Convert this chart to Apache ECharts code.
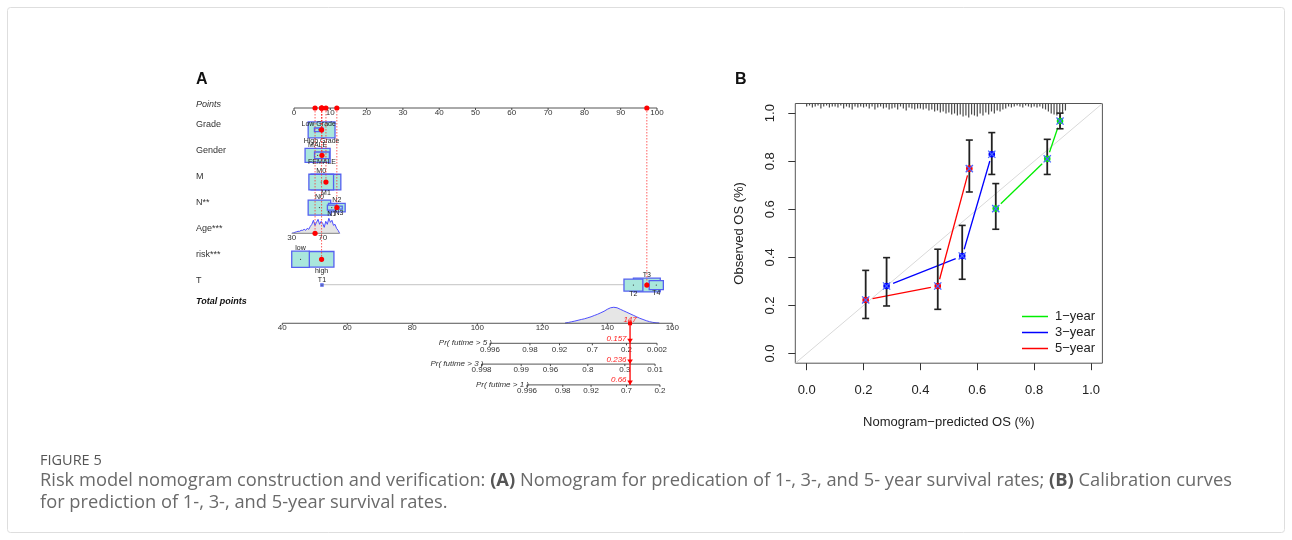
<!DOCTYPE html>
<html><head><meta charset="utf-8">
<script src="https://cdn.jsdelivr.net/npm/echarts@6/dist/echarts.min.js"></script>
<style>html,body{margin:0;padding:0;background:#fff}#c{width:1292px;height:540px}</style>
</head><body><div id="c"></div>
<script>
// ================= DATA: Panel A (nomogram) =================
const rowLabels = ['Points','Grade','Gender','M','N**','Age***','risk***','T','Total points'];
const pointTicks = [0,10,20,30,40,50,60,70,80,90,100];
const gradeLevels = ['Low Grade','High Grade'];
const gradePoints = [6.8, 7.6];
const genderLevels = ['MALE','FEMALE'];
const genderPoints = [6.5, 7.7];
const mLevels = ['M0','M1'];
const mPoints = [7.5, 8.8];
const nLevels = ['N0','N1','N2','N3'];
const nPoints = [7.0, 10.4, 11.8, 12.4];
const riskLevels = ['low','high'];
const riskPoints = [1.8, 7.6];
const tLevels = ['T1','T2','T3','T4'];
const tPoints = [7.7, 93.5, 97.2, 99.8];
const ageTickLabels = [30, 70];
const ageTickPoints = [-0.6, 7.9];
const ageGrid = [30,32,34,36,38,40,42,44,46,48,50,52,54,56,58,60,62,64,66,68,70,72,74,76,78,80,82,84,86,88,90,92];
const ageDensity = [0,0.5,1,1.5,2,2,3,3,4,3,5,4,7,9,13,8,11,14,9,12,10,6,12,9,15,11,13,8,9,5,3,0];
// patient: grade, gender, M, N, age, risk, T
const patientPoints = [7.6, 7.7, 8.8, 11.8, 5.8, 7.6, 97.2];
const totalTicks = [40,60,80,100,120,140,160];
const totalGrid = [127,128,129,130,131,132,133,134,135,136,137,138,139,140,141,142,143,144,145,146,147,148,149,150,151,152,153,154,155,156];
const totalDensity = [0.3,0.8,1.5,2.2,3,3.8,4.5,5.5,6.5,7.8,9,10.5,12,14,15.5,16,15.5,14,12.5,11,9.5,8,6.5,5,3.8,2.6,1.6,0.9,0.5,0.3];
const totalScore = 147;
const prNames = ['Pr( futime > 5 )','Pr( futime > 3 )','Pr( futime > 1 )'];
const pr5Labels = ['0.996','0.98','0.92','0.7','0.2','0.002'];
const pr5Points = [103.9,116.2,125.3,135.4,145.9,155.3];
const pr3Labels = ['0.998','0.99','0.96','0.8','0.3','0.01'];
const pr3Points = [101.3,113.5,122.5,134.0,145.4,154.7];
const pr1Labels = ['0.996','0.98','0.92','0.7','0.2'];
const pr1Points = [115.3,126.3,135.0,145.9,156.2];
const prValues = ['0.157','0.236','0.66'];

// ================= DATA: Panel B (calibration) =================
const xTicksB = [0,0.2,0.4,0.6,0.8,1.0];
const yTicksB = [0,0.2,0.4,0.6,0.8,1.0];
const y1Pred = [0.665,0.846,0.891], y1Obs = [0.603,0.81,0.967], y1Lo = [0.517,0.745,0.935], y1Hi = [0.707,0.891,1.0];
const y3Pred = [0.281,0.547,0.651], y3Obs = [0.281,0.406,0.829], y3Lo = [0.198,0.309,0.745], y3Hi = [0.399,0.533,0.919];
const y5Pred = [0.2075,0.461,0.572], y5Obs = [0.223,0.281,0.769], y5Lo = [0.146,0.184,0.672], y5Hi = [0.346,0.434,0.888];
const rugStart = 0.0, rugStep = 0.01;
const rugCounts = [3,2,4,3,2,5,3,2,4,3, 3,4,2,5,3,4,6,3,4,3, 4,3,5,3,6,4,3,5,4,6, 5,4,6,3,5,7,4,5,6,5,
  5,6,5,7,6,8,7,9,8,10, 9,11,10,12,11,13,12,14,11,12, 13,10,12,9,11,8,10,7,8,6, 5,3,4,3,2,3,4,2,3,4,
  3,4,3,5,6,8,10,11,12,9, 10,7];

// ================= LAYOUT / STYLE =================
const FONT = '"Liberation Sans", Arial, Helvetica, sans-serif';
const CAP_FONT = '"Open Sans", sans-serif';
const TXT = '#333';
const ROW_V = {points:0, grade:0.84, gender:1.82, m:2.85, n:3.83, age:4.82, risk:5.82, t:6.81, total:8.28, pr:[9.05,9.85,10.65]};
const LABEL_V = [-0.15,0.65,1.65,2.65,3.62,4.62,5.62,6.62,7.46];
const BOX_SIZE = {grade:[[2.35,3.7],[7.4,16]], gender:[[6.9,14],[4.1,6.6]], m:[[6.8,15.7],[8.2,15.7]],
  n:[[6.2,15],[2.4,5],[4.6,8.4],[1.8,3]], risk:[[4.85,16.3],[6.8,15.6]], t:[[0.6,2.2],[5.2,12],[7.4,13.7],[3.9,9]]};
const BOX_FILL = '#a9e7dc', BOX_STROKE = '#5560f0';

function T(x,y,text,o){ o=o||{}; return {type:'text', x:x, y:y, z2:o.z2||50, style:{text:text, fontSize:o.size||8, fontFamily:FONT, fill:o.color||TXT, align:o.align||'center', verticalAlign:o.va||'middle', fontStyle:o.style||'normal', fontWeight:o.weight||'normal'}}; }
function L(x1,y1,x2,y2,o){ o=o||{}; return {type:'line', z2:o.z2||10, shape:{x1:x1,y1:y1,x2:x2,y2:y2}, style:{stroke:o.color||'#333', lineWidth:o.w||1, lineDash:o.dash||null, opacity:o.op==null?1:o.op}}; }
function agePts(a){ return ageTickPoints[0] + (a-ageTickLabels[0])*(ageTickPoints[1]-ageTickPoints[0])/(ageTickLabels[1]-ageTickLabels[0]); }

const catRows = [
  {key:'grade', levels:gradeLevels, pts:gradePoints},
  {key:'gender', levels:genderLevels, pts:genderPoints},
  {key:'m', levels:mLevels, pts:mPoints},
  {key:'n', levels:nLevels, pts:nPoints},
  {key:'risk', levels:riskLevels, pts:riskPoints},
  {key:'t', levels:tLevels, pts:tPoints}
];
const boxItems = [];
catRows.forEach(r=>{
  const sz = BOX_SIZE[r.key];
  const idx = r.levels.map((_,i)=>i).sort((a,b)=> sz[b][0]*sz[b][1]-sz[a][0]*sz[a][1]);
  idx.forEach(i=> boxItems.push({key:r.key, i:i, label:r.levels[i], pts:r.pts[i], v:ROW_V[r.key], w:sz[i][0], h:sz[i][1]}));
});
const patientRowsV = [ROW_V.grade, ROW_V.gender, ROW_V.m, ROW_V.n, ROW_V.age, ROW_V.risk, ROW_V.t];
const prSets = [[pr5Labels,pr5Points],[pr3Labels,pr3Points],[pr1Labels,pr1Points]];

const series = [];
// ---- Points axis
series.push({type:'custom', xAxisIndex:0, yAxisIndex:0, silent:true, z:3,
  data: pointTicks.map(t=>[t, ROW_V.points]),
  renderItem:(p,api)=>{
    const t = pointTicks[p.dataIndex]; const c = api.coord([t, ROW_V.points]);
    const ch = [L(c[0],c[1],c[0],c[1]+2,{color:'#444'}), T(c[0], c[1]+4.6, String(t), {size:8})];
    if (p.dataIndex===0){ const e = api.coord([pointTicks[pointTicks.length-1], ROW_V.points]); ch.push(L(c[0],c[1],e[0],e[1],{color:'#555'})); }
    return {type:'group', children:ch};
  }});
// ---- Row labels
series.push({type:'custom', xAxisIndex:0, yAxisIndex:0, silent:true, z:3,
  data: rowLabels.map((l,i)=>[0, LABEL_V[i]]),
  renderItem:(p,api)=>{
    const i = p.dataIndex; const c = api.coord([0, LABEL_V[i]]);
    const o = {size:9, align:'left'};
    if (i===0) o.style='italic';
    if (i===rowLabels.length-1){ o.style='italic'; o.weight='bold'; o.color='#111'; }
    return T(c[0]-98, c[1], rowLabels[i], o);
  }});
// ---- T range baseline
series.push({type:'custom', xAxisIndex:0, yAxisIndex:0, silent:true, z:2,
  data: [[0, ROW_V.t]],
  renderItem:(p,api)=>{
    const a = api.coord([tPoints[0], ROW_V.t]), b = api.coord([tPoints[tPoints.length-1], ROW_V.t]);
    return L(a[0], a[1]-0.5, b[0], b[1]-0.5, {color:'#cfcfcf', w:1.2});
  }});
// ---- Age density
series.push({type:'custom', xAxisIndex:0, yAxisIndex:0, silent:true, z:3,
  data: [[0, ROW_V.age]],
  renderItem:(p,api)=>{
    const pts = ageGrid.map((a,k)=>{ const c = api.coord([agePts(a), ROW_V.age]); return [c[0], c[1]-ageDensity[k]]; });
    const b0 = api.coord([agePts(ageGrid[0]), ROW_V.age]), b1 = api.coord([agePts(ageGrid[ageGrid.length-1]), ROW_V.age]);
    const ch = [
      {type:'polygon', shape:{points: pts.concat([[b1[0],b1[1]],[b0[0],b0[1]]])}, style:{fill:'#e4e4e4'}},
      {type:'polyline', shape:{points: pts}, style:{stroke:'#3b3bff', lineWidth:0.9, fill:null}},
      L(b0[0], b0[1], b1[0], b1[1], {color:'#999', w:1.2})
    ];
    ageTickLabels.forEach(a=>{ const c = api.coord([agePts(a), ROW_V.age]); ch.push(T(c[0], c[1]+4.8, String(a), {size:8})); });
    return {type:'group', children:ch};
  }});
// ---- Category boxes
series.push({type:'custom', xAxisIndex:0, yAxisIndex:0, silent:true, z:4,
  data: boxItems.map(b=>[b.pts, b.v]),
  renderItem:(p,api)=>{
    const b = boxItems[p.dataIndex];
    const c = api.coord([b.pts, b.v]);
    const x1 = api.coord([b.pts-b.w/2, b.v])[0], x2 = api.coord([b.pts+b.w/2, b.v])[0];
    const top = c[1]-b.h/2, bot = c[1]+b.h/2;
    const ch = [
      {type:'rect', z2:5+p.dataIndex, shape:{x:x1, y:top, width:x2-x1, height:b.h}, style:{fill:BOX_FILL, stroke:BOX_STROKE, lineWidth:1.3}},
      {type:'circle', z2:30, shape:{cx:c[0], cy:c[1], r:0.6}, style:{fill:'#333'}},
      T(c[0], b.i%2===0 ? top-3.5 : bot+3.5, b.label, {size:7, z2:60, color:'#222'})
    ];
    return {type:'group', children:ch};
  }});
// ---- Patient selections
series.push({type:'custom', xAxisIndex:0, yAxisIndex:0, silent:true, z:6,
  data: patientPoints.map((v,i)=>[v, patientRowsV[i]]),
  renderItem:(p,api)=>{
    const i = p.dataIndex; const v = patientPoints[i];
    const a = api.coord([v, ROW_V.points]), b = api.coord([v, patientRowsV[i]]);
    return {type:'group', children:[
      L(a[0], a[1], b[0], b[1], {color:'#ff2a2a', dash:[1.5,1.5], op:0.75}),
      {type:'circle', z2:40, shape:{cx:a[0], cy:a[1], r:2.6}, style:{fill:'#ff0000'}},
      {type:'circle', z2:40, shape:{cx:b[0], cy:b[1], r:2.6}, style:{fill:'#ff0000'}}
    ]};
  }});
// ---- Total points axis + density
series.push({type:'custom', xAxisIndex:1, yAxisIndex:1, silent:true, z:3,
  data: [[totalTicks[0], ROW_V.total]],
  renderItem:(p,api)=>{
    const pts = totalGrid.map((t,k)=>{ const c = api.coord([t, ROW_V.total]); return [c[0], c[1]-totalDensity[k]]; });
    const b0 = api.coord([totalGrid[0], ROW_V.total]), b1 = api.coord([totalGrid[totalGrid.length-1], ROW_V.total]);
    const a0 = api.coord([totalTicks[0], ROW_V.total]), a1 = api.coord([totalTicks[totalTicks.length-1], ROW_V.total]);
    const ch = [
      {type:'polygon', shape:{points: pts.concat([[b1[0],b1[1]],[b0[0],b0[1]]])}, style:{fill:'#e6e6e6'}},
      {type:'polyline', shape:{points: pts}, style:{stroke:'#3b3bff', lineWidth:0.9, fill:null}},
      L(a0[0], a0[1], a1[0], a1[1], {color:'#555'})
    ];
    totalTicks.forEach(t=>{ const c = api.coord([t, ROW_V.total]); ch.push(L(c[0],c[1],c[0],c[1]+2,{color:'#444'})); ch.push(T(c[0], c[1]+4.2, String(t), {size:8})); });
    return {type:'group', children:ch};
  }});
// ---- Probability axes
series.push({type:'custom', xAxisIndex:1, yAxisIndex:1, silent:true, z:3,
  data: prSets.map((s,i)=>[s[1][0], ROW_V.pr[i]]),
  renderItem:(p,api)=>{
    const i = p.dataIndex; const labs = prSets[i][0], pos = prSets[i][1]; const v = ROW_V.pr[i];
    const a0 = api.coord([pos[0], v]), a1 = api.coord([pos[pos.length-1], v]);
    const ch = [L(a0[0], a0[1], a1[0], a1[1], {color:'#555'}), T(a0[0]+2, a0[1]-0.5, prNames[i], {size:8, align:'right', style:'italic'})];
    pos.forEach((t,k)=>{ const c = api.coord([t, v]); ch.push(L(c[0],c[1],c[0],c[1]+2,{color:'#444'})); ch.push(T(c[0], c[1]+6, labs[k], {size:8})); });
    return {type:'group', children:ch};
  }});
// ---- Result (total 147 -> probabilities)
series.push({type:'custom', xAxisIndex:1, yAxisIndex:1, silent:true, z:6,
  data: [[totalScore, ROW_V.total]],
  renderItem:(p,api)=>{
    const a = api.coord([totalScore, ROW_V.total]), b = api.coord([totalScore, ROW_V.pr[2]]);
    const ch = [L(a[0], a[1], b[0], b[1], {color:'#ff0000', w:1.3, z2:40}),
      {type:'rect', z2:41, shape:{x:a[0]-2, y:a[1]-2, width:4, height:4}, style:{fill:'#ff0000'}},
      T(a[0], a[1]-3.5, String(totalScore), {size:8, color:'#ff2020', style:'italic', z2:45})];
    ROW_V.pr.forEach((v,k)=>{
      const c = api.coord([totalScore, v]);
      ch.push({type:'polygon', z2:41, shape:{points:[[c[0]-2.8,c[1]-4.5],[c[0]+2.8,c[1]-4.5],[c[0],c[1]]]}, style:{fill:'#ff0000'}});
      ch.push(T(c[0]-3.5, c[1]-4.8, prValues[k], {size:8, color:'#ff2020', style:'italic', align:'right', z2:45}));
    });
    return {type:'group', children:ch};
  }});

// ---- Panel B
series.push({type:'line', xAxisIndex:2, yAxisIndex:2, silent:true, symbol:'none', z:1,
  data: [[-0.04,-0.04],[1.04,1.04]], lineStyle:{color:'#d9d9d9', width:1}});
series.push({type:'custom', xAxisIndex:2, yAxisIndex:2, silent:true, z:2,
  data: rugCounts.map((n,i)=>[rugStart+i*rugStep, 1.04]),
  renderItem:(p,api)=>{
    const x = rugStart + p.dataIndex*rugStep; const c = api.coord([x, 1.04]);
    return L(c[0], c[1], c[0], c[1]+rugCounts[p.dataIndex], {color:'#4a4a4a', w:1.2});
  }});
function calSeries(name, color, xs, ys, lo, hi){
  return {type:'custom', name:name, xAxisIndex:2, yAxisIndex:2, silent:true, z:4, itemStyle:{color:color},
    data: xs.map((x,i)=>[x, ys[i]]),
    renderItem:(p,api)=>{
      const i = p.dataIndex; const c = api.coord([xs[i], ys[i]]);
      const ch = [];
      if (i < xs.length-1){
        const d = api.coord([xs[i+1], ys[i+1]]);
        const dx = d[0]-c[0], dy = d[1]-c[1], len = Math.sqrt(dx*dx+dy*dy), g = 7;
        if (len > 2*g) ch.push(L(c[0]+dx/len*g, c[1]+dy/len*g, d[0]-dx/len*g, d[1]-dy/len*g, {color:color, w:1.3, z2:5}));
      }
      const t = api.coord([xs[i], hi[i]]), b = api.coord([xs[i], lo[i]]);
      ch.push(L(t[0], t[1], b[0], b[1], {color:'#222', w:1.8, z2:10}));
      ch.push(L(t[0]-3.5, t[1], t[0]+3.5, t[1], {color:'#222', w:1.6, z2:10}));
      ch.push(L(b[0]-3.5, b[1], b[0]+3.5, b[1], {color:'#222', w:1.6, z2:10}));
      ch.push({type:'circle', z2:20, shape:{cx:c[0], cy:c[1], r:3.3}, style:{fill:color}});
      ch.push(L(c[0]-3.6, c[1]-3.6, c[0]+3.6, c[1]+3.6, {color:'#4a66ff', w:1.3, z2:21}));
      ch.push(L(c[0]-3.6, c[1]+3.6, c[0]+3.6, c[1]-3.6, {color:'#4a66ff', w:1.3, z2:21}));
      return {type:'group', children:ch};
    }};
}
series.push(calSeries('1−year', '#00ee00', y1Pred, y1Obs, y1Lo, y1Hi));
series.push(calSeries('3−year', '#0000ff', y3Pred, y3Obs, y3Lo, y3Hi));
series.push(calSeries('5−year', '#ff0000', y5Pred, y5Obs, y5Lo, y5Hi));

const option = {
  animation:false,
  backgroundColor:'#ffffff',
  grid:[
    {left:294, top:95, width:363, height:299},
    {left:282.3, top:95, width:390, height:299},
    {left:795.3, top:103.5, width:307.1, height:259.7, show:true, borderColor:'#555', borderWidth:1, backgroundColor:'transparent'}
  ],
  xAxis:[
    {gridIndex:0, type:'value', min:0, max:100, show:false},
    {gridIndex:1, type:'value', min:40, max:160, show:false},
    {gridIndex:2, type:'value', min:-0.04, max:1.04, splitLine:{show:false}, axisLine:{show:false, onZero:false},
     axisTick:{show:true, customValues:xTicksB, length:7, lineStyle:{color:'#333'}},
     axisLabel:{customValues:xTicksB, formatter:v=>v.toFixed(1), fontSize:13, color:'#222', fontFamily:FONT, margin:21},
     name:'Nomogram−predicted OS (%)', nameLocation:'middle', nameGap:53, nameTextStyle:{fontSize:13, color:'#222', fontFamily:FONT}}
  ],
  yAxis:[
    {gridIndex:0, type:'value', min:-0.5, max:11, inverse:true, show:false},
    {gridIndex:1, type:'value', min:-0.5, max:11, inverse:true, show:false},
    {gridIndex:2, type:'value', min:-0.04, max:1.04, splitLine:{show:false}, axisLine:{show:false, onZero:false},
     axisTick:{show:true, customValues:yTicksB, length:7, lineStyle:{color:'#333'}},
     axisLabel:{customValues:yTicksB, rotate:90, formatter:v=>v.toFixed(1), fontSize:13, color:'#222', fontFamily:FONT, margin:18},
     name:'Observed OS (%)', nameLocation:'middle', nameGap:49, nameTextStyle:{fontSize:13, color:'#222', fontFamily:FONT}}
  ],
  legend:{data:['1−year','3−year','5−year'], orient:'vertical', left:1017, top:304, icon:'rect', itemWidth:26, itemHeight:1.5, itemGap:1,
    selectedMode:false, textStyle:{fontSize:13, color:'#222', fontFamily:FONT, lineHeight:15, padding:[0,0,0,2]}},
  graphic:[
    {type:'rect', silent:true, shape:{x:7.5, y:7.5, width:1277, height:525, r:3}, style:{fill:'none', stroke:'#dedede', lineWidth:1}},
    {type:'text', silent:true, x:196, y:80, style:{text:'A', fontSize:16, fontWeight:'bold', fontFamily:FONT, fill:'#111', verticalAlign:'middle'}},
    {type:'text', silent:true, x:735, y:80, style:{text:'B', fontSize:16, fontWeight:'bold', fontFamily:FONT, fill:'#111', verticalAlign:'middle'}},
    {type:'text', silent:true, x:40, y:461, style:{text:'FIGURE 5', fontSize:14.5, fontFamily:CAP_FONT, fill:'#555', verticalAlign:'middle'}},
    {type:'text', silent:true, x:40, y:481, style:{text:'Risk model nomogram construction and verification: {b|(A)} Nomogram for predication of 1-, 3-, and 5- year survival rates; {b|(B)} Calibration curves',
      fontSize:18.3, fontFamily:CAP_FONT, fill:'#6a6a6a', verticalAlign:'middle',
      rich:{b:{fontSize:18.3, fontFamily:CAP_FONT, fontWeight:'bold', fill:'#555'}}}},
    {type:'text', silent:true, x:40, y:503, style:{text:'for prediction of 1-, 3-, and 5-year survival rates.', fontSize:18.3, fontFamily:CAP_FONT, fill:'#6a6a6a', verticalAlign:'middle'}}
  ],
  series: series
};
const chart = echarts.init(document.getElementById('c'));
chart.setOption(option);
</script></body></html>
